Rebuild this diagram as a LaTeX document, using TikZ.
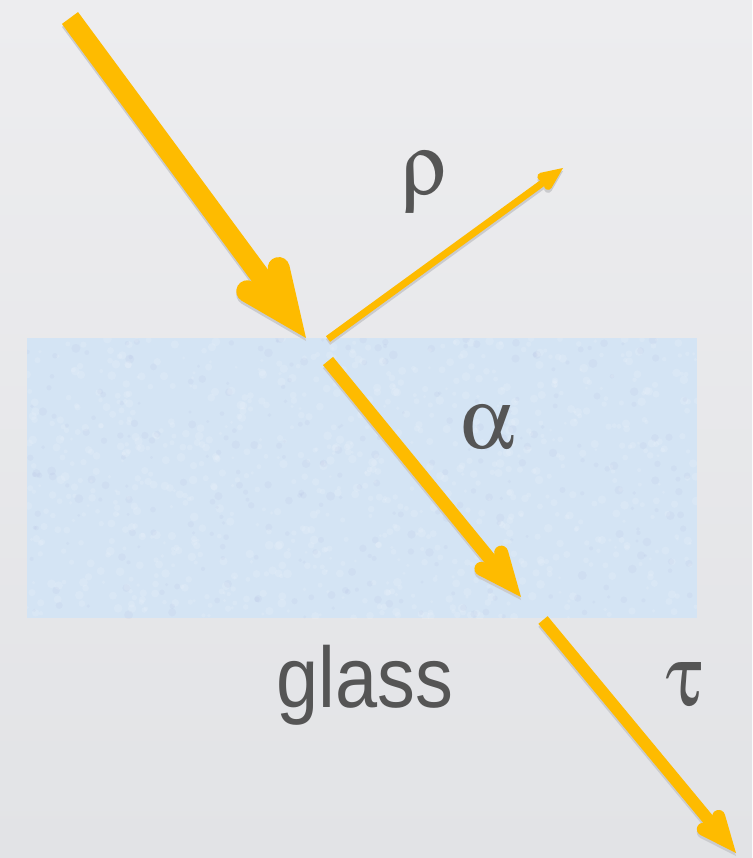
\documentclass[tikz,border=0pt]{standalone}
\usepackage{fontspec}
\usepackage[Symbol]{upgreek}
\newfontfamily\labelsans{Liberation Sans}
\usetikzlibrary{calc}
\definecolor{rayorange}{HTML}{FEBB00}
\definecolor{bgtop}{HTML}{EDEDEF}
\definecolor{bgbot}{HTML}{E2E3E6}
\definecolor{glassblue}{HTML}{D4E4F4}
\definecolor{txtgray}{HTML}{555555}
\definecolor{raysh}{HTML}{CACBCE}
\tikzset{
  ray/.style={draw=rayorange},
  rayshadow/.style={draw=raysh, transform canvas={yshift=-3pt}},
  greek/.style={text=txtgray, font=\fontsize{86}{86}\selectfont, inner sep=0pt},
}
\newcommand\litarrow[7]{% #1 prefix, #2 start, #3 tip, #4 shaft width, #5 arm, #6 angle, #7 head width
  \pgfmathsetmacro\mitr{#7/2/sin(#6)}
  \coordinate (#1v) at ($(#3)!\mitr pt!(#2)$);
  \coordinate (#1l) at ($(#1v)!#5pt!#6:(#2)$);
  \coordinate (#1r) at ($(#1v)!#5pt!-#6:(#2)$);
  \draw[rayshadow, line width=#4pt] (#2) -- (#1v);
  \draw[rayshadow, line width=#7pt, line cap=round, line join=miter] (#1l) -- (#1v) -- (#1r);
  \draw[ray, line width=#4pt] (#2) -- (#1v);
  \draw[ray, line width=#7pt, line cap=round, line join=miter] (#1l) -- (#1v) -- (#1r);
}
\begin{document}
\begin{tikzpicture}[x=1pt, y=-1pt]
  \useasboundingbox (0,0) rectangle (752,858);
  \shade[top color=bgtop, bottom color=bgbot] (0,0) rectangle (752,858);
  % glass slab
  \fill[glassblue] (27,338) rectangle (697,618);
  \begin{scope}
    \clip (27,338) rectangle (697,618);
    \pgfmathsetseed{7}
    \foreach \i in {1,...,900}{
      \pgfmathsetmacro\px{27+670*rnd}
      \pgfmathsetmacro\py{338+280*rnd}
      \pgfmathsetmacro\pr{1.5+3*rnd}
      \fill[white, opacity=0.12] (\px,\py) circle (\pr pt);
    }
    \foreach \i in {1,...,300}{
      \pgfmathsetmacro\px{27+670*rnd}
      \pgfmathsetmacro\py{338+280*rnd}
      \pgfmathsetmacro\pr{1.5+3*rnd}
      \fill[blue!40!gray, opacity=0.035] (\px,\py) circle (\pr pt);
    }
  \end{scope}
  % ray coordinates
  \coordinate (inS) at (70,18);
  \coordinate (inT) at (306,338);
  \coordinate (reS) at (328,339);
  \coordinate (reT) at (563,168);
  \coordinate (abS) at (328,361);
  \coordinate (abT) at (521,597);
  \coordinate (trS) at (543,620);
  \coordinate (trT) at (736,853);
  \litarrow{inc}{inS}{inT}{20}{49}{23.5}{22}
  \litarrow{ref}{reS}{reT}{7}{14}{24}{8}
  \litarrow{abs}{abS}{abT}{13}{32}{23.5}{14}
  \litarrow{tra}{trS}{trT}{12}{25}{23.5}{13}
  % labels
  \node[greek, anchor=base] (rho) at (425,195) {$\uprho$};
  \node[greek, anchor=base] (alpha) at (488,448) {$\upalpha$};
  \node[greek, anchor=base] (tau) at (684,705) {$\uptau$};
  \node[text=txtgray, inner sep=0pt, anchor=base] (glass) at (365,707)
    {\scalebox{0.88}[1]{\labelsans\fontsize{86}{86}\selectfont glass}};
\end{tikzpicture}
\end{document}
